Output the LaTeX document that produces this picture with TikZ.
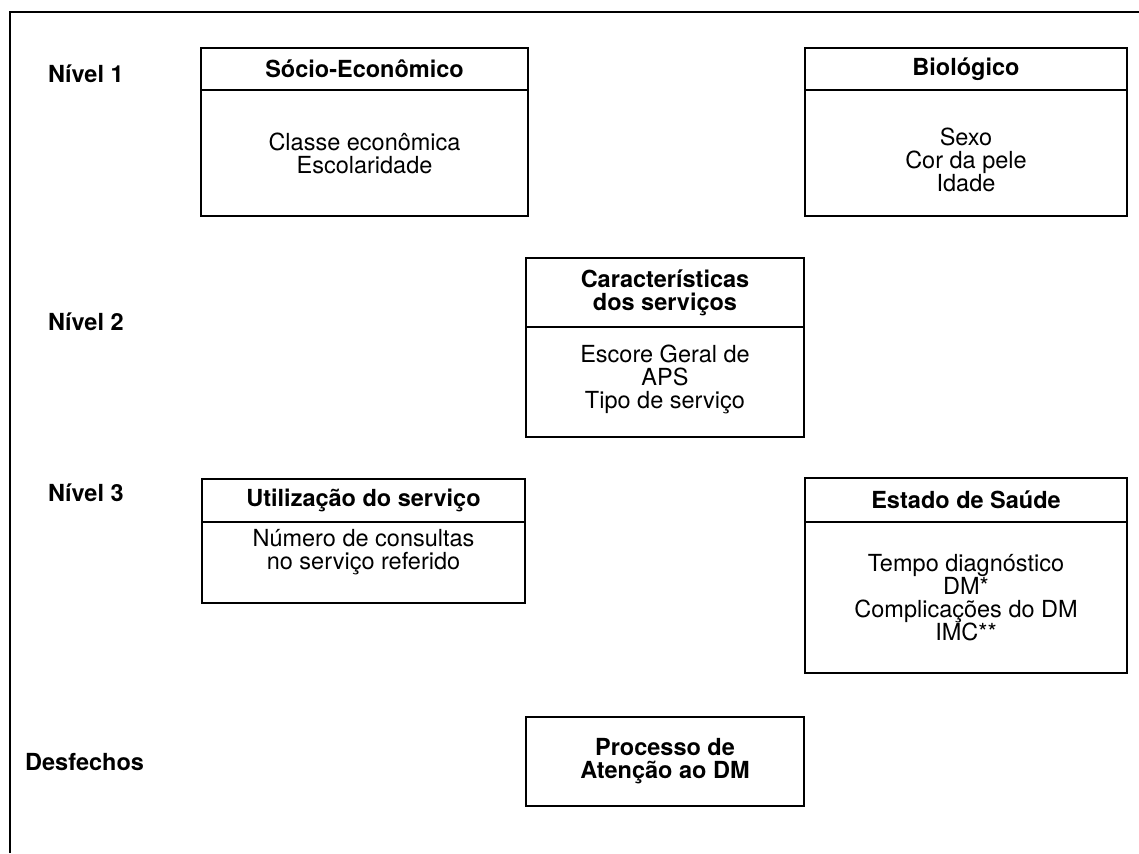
\documentclass[tikz,border=0pt]{standalone}
\usepackage{fontspec}
\setmainfont{TeX Gyre Heros}
\usetikzlibrary{positioning}

\begin{document}
\begin{tikzpicture}[x=1pt, y=-1pt,
    font=\fontsize{23.5}{23}\selectfont,
    box/.style={draw, line width=1.5pt, inner sep=0pt, outer sep=0pt},
    head/.style={box, font=\fontsize{23.5}{23}\selectfont\bfseries, align=center},
    body/.style={box},
    items/.style={align=center, inner sep=0pt},
    level/.style={anchor=west, inner sep=0pt, font=\fontsize{23.5}{23}\selectfont\bfseries}]
    \useasboundingbox (0,0) rectangle (1139,853);
    \draw[line width=1.5pt] (10,853) -- (10,12) -- (1139,12);

    % levels
    \node[level] (lv1) at (48,73.5) {Nível 1};
    \node[level] (lv2) at (48,322)  {Nível 2};
    \node[level] (lv3) at (48,493)  {Nível 3};
    \node[level] (out) at (25,762)  {Desfechos};

    % headers
    \node[head, minimum width=327, minimum height=42] (se)  at (364.5,69)  {Sócio-Econômico};
    \node[head, minimum width=322, minimum height=42] (bio) at (966,69)    {Biológico};
    \node[head, minimum width=278, minimum height=69] (car) at (665,292.5) {Características\\dos serviços};
    \node[head, minimum width=323, minimum height=43] (uti) at (363.5,500.5){Utilização do serviço};
    \node[head, minimum width=322, minimum height=44] (est) at (966,500)   {Estado de Saúde};
    \node[head, minimum width=278, minimum height=89] (dm)  at (665,761.5) {Processo de\\Atenção ao DM};

    % bodies
    \node[body, minimum width=327, minimum height=126, below=0pt of se]  (se body)  {};
    \node[body, minimum width=322, minimum height=126, below=0pt of bio] (bio body) {};
    \node[body, minimum width=278, minimum height=110, below=0pt of car] (car body) {};
    \node[body, minimum width=323, minimum height=81,  below=0pt of uti] (uti body) {};
    \node[body, minimum width=322, minimum height=151, below=0pt of est] (est body) {};

    \node[items] (se items)  at (se body.center)               {Classe econômica\\Escolaridade};
    \node[items] (bio items) at ([yshift=-7pt]bio body.center) {Sexo\\Cor da pele\\Idade};
    \node[items] (car items) at ([yshift=3pt]car body.center)  {Escore Geral de\\APS\\Tipo de serviço};
    \node[items] (uti items) at ([yshift=10pt]uti body.center) {Número de consultas\\no serviço referido};
    \node[items] (est items) at (est body.center)              {Tempo diagnóstico\\DM*\\Complicações do DM\\IMC**};
\end{tikzpicture}
\end{document}
